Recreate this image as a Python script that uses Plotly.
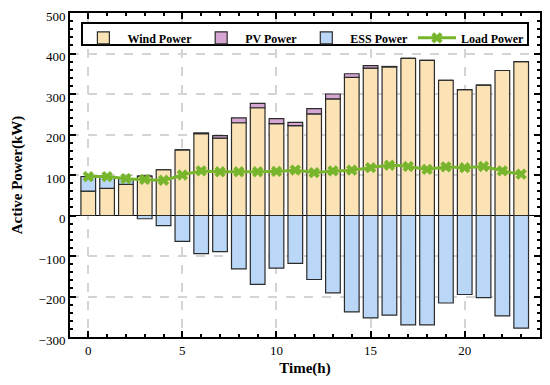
import plotly.graph_objects as go

hours = list(range(24))
wind = [60, 67, 77, 97, 113, 162, 202, 191, 229, 266, 227, 222, 251, 288, 341, 364, 367, 388, 383, 334, 311, 322, 358, 380]
pv = [0, 0, 0, 0, 0, 0, 2, 6, 12, 11, 12, 8, 13, 12, 9, 6, 1, 0, 0, 0, 0, 0, 0, 0]
ess = [36, 29, 14, -8, -25, -64, -94, -89, -132, -170, -130, -118, -158, -191, -238, -253, -246, -270, -270, -216, -195, -203, -248, -278]
load = [96, 96, 91, 89, 87, 100, 110, 108, 108, 108, 109, 112, 106, 110, 112, 118, 124, 121, 114, 120, 118, 121, 110, 102]

FONT = "Liberation Serif"
edge = dict(color="#2b2b2b", width=1.2)

fig = go.Figure()
fig.add_trace(go.Bar(x=hours, y=wind, name="Wind Power", marker=dict(color="#FBE3B6", line=edge), width=0.78))
fig.add_trace(go.Bar(x=hours, y=pv, name="PV Power", marker=dict(color="#D6A6D3", line=edge), width=0.78))
fig.add_trace(go.Bar(x=hours, y=ess, name="ESS Power", marker=dict(color="#BAD7F7", line=edge), width=0.78))
fig.add_trace(go.Scatter(x=hours, y=load, name="Load Power", mode="lines+markers",
                         line=dict(color="#77B52C", width=3, shape="spline", smoothing=0.5),
                         marker=dict(symbol="x", size=10, color="#77B52C")))

axis_common = dict(
    showline=True, linecolor="black", linewidth=2, mirror="allticks",
    ticks="inside", ticklen=6, tickwidth=2, tickcolor="black",
    tickfont=dict(family=FONT, size=13, color="black"),
    showgrid=True, gridcolor="#d4d4d4", griddash="dash", gridwidth=1.5,
    automargin=False, ticklabeloverflow="allow",
)

fig.update_xaxes(**axis_common, range=[-0.97, 24.0], tickvals=[0, 5, 10, 15, 20],
                 minor=dict(ticks="inside", ticklen=3, tickwidth=1.5, tickcolor="black", dtick=1, tick0=0, showgrid=False),
                 zeroline=False,
                 title=dict(text="<b>Time(h)</b>", font=dict(family=FONT, size=15, color="black"), standoff=6))
fig.update_yaxes(**axis_common, range=[-300, 500], dtick=100, ticklabelshift=3,
                 minor=dict(ticks="inside", ticklen=3, tickwidth=1.5, tickcolor="black", dtick=20, showgrid=False),
                 zeroline=True, zerolinecolor="black", zerolinewidth=1,
                 title=dict(text="<b>Active Power(kW)</b>", font=dict(family=FONT, size=15, color="black"), standoff=12))

fig.add_shape(type="rect", xref="paper", yref="paper", x0=0.0255, x1=0.9745, y0=0.901, y1=0.969,
              line=dict(color="black", width=2), fillcolor="white", layer="above")

# page body has an 8px default margin, so the figure is shrunk by 8px and margins adjusted
fig.update_layout(
    width=542, height=377,
    margin=dict(l=62, r=10, t=5, b=48),
    barmode="relative", bargap=0.22,
    plot_bgcolor="white", paper_bgcolor="white",
    font=dict(family=FONT, color="black"),
    legend=dict(orientation="h", x=0.02, y=0.968, xanchor="left", yanchor="top",
                bgcolor="rgba(0,0,0,0)", borderwidth=0,
                font=dict(family=FONT, size=12, color="black", weight="bold"),
                itemwidth=38, tracegroupgap=0),
    showlegend=True,
)

fig.write_html("out.html")
